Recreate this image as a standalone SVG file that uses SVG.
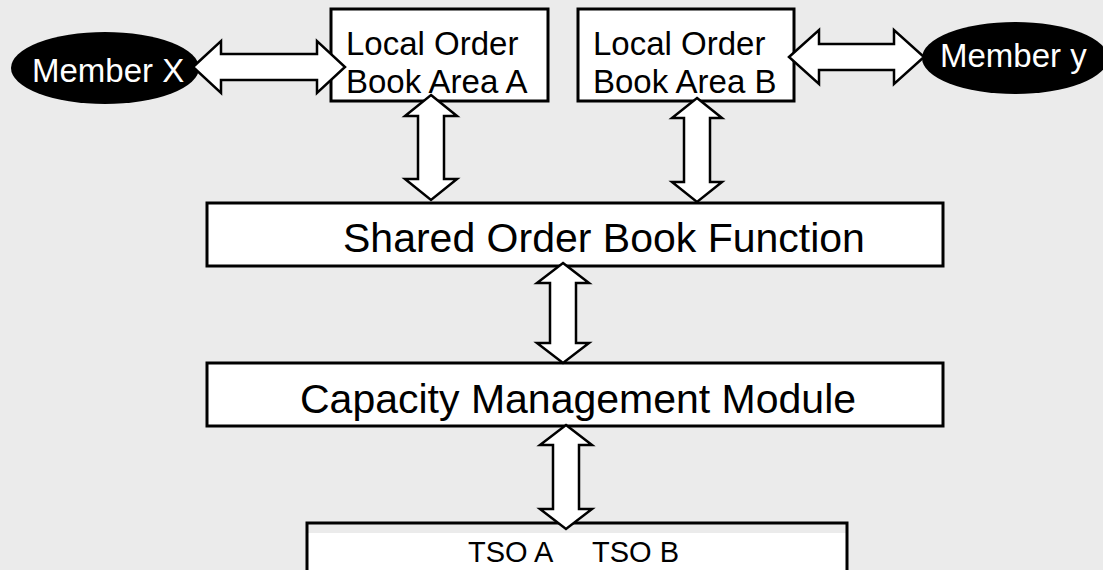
<svg xmlns="http://www.w3.org/2000/svg" width="1103" height="570" viewBox="0 0 1103 570">
  <style>
    .box { fill: #ffffff; stroke: #000000; stroke-width: 3; }
    .member { fill: #000000; }
    .arrow { fill: #ffffff; stroke: #000000; stroke-width: 2.5; stroke-linejoin: miter; }
    .lbl { font-family: "Liberation Sans", Arial, sans-serif; fill: #000000; }
    .small { font-size: 33px; }
    .big { font-size: 41px; }
    .white { fill: #ffffff; }
  </style>
  <rect x="0" y="0" width="1103" height="570" fill="#ebebeb"/>

  <g id="member-x">
    <ellipse class="member" cx="105" cy="68" rx="94" ry="36"/>
    <text class="lbl small white" x="32" y="82">Member X</text>
  </g>

  <g id="member-y">
    <ellipse class="member" cx="1015" cy="58" rx="93" ry="36"/>
    <text class="lbl small white" x="940" y="67">Member y</text>
  </g>

  <g id="local-book-a">
    <rect class="box" x="331" y="9" width="217" height="92"/>
    <text class="lbl small" x="346" y="55">Local Order</text>
    <text class="lbl small" x="346" y="93">Book Area A</text>
  </g>

  <g id="local-book-b">
    <rect class="box" x="578" y="9" width="216" height="92"/>
    <text class="lbl small" x="593" y="55">Local Order</text>
    <text class="lbl small" x="593" y="93">Book Area B</text>
  </g>

  <g id="shared-order-book">
    <rect class="box" x="207" y="203" width="736" height="63"/>
    <text class="lbl big" x="343" y="252">Shared Order Book Function</text>
  </g>

  <g id="capacity-management">
    <rect class="box" x="207" y="363" width="736" height="63"/>
    <text class="lbl big" x="300" y="413">Capacity Management Module</text>
  </g>

  <g id="tso">
    <rect x="307" y="533" width="540" height="40" fill="#ffffff"/>
    <path d="M307,572 V523 H847 V572" fill="none" stroke="#000000" stroke-width="3"/>
    <text class="lbl" font-size="29" y="562"><tspan x="468">TSO A</tspan><tspan x="592">TSO B</tspan></text>
  </g>

  <g id="connectors">
    <!-- Member X <-> Local Order Book Area A -->
    <polygon class="arrow" points="193,67 221,41 221,54 317,54 317,41 345,67 317,93 317,80 221,80 221,93"/>
    <!-- Local Order Book Area B <-> Member y -->
    <polygon class="arrow" points="789,57 819,30 819,44 894,44 894,30 924,57 894,84 894,70 819,70 819,84"/>
    <!-- Area A <-> Shared Order Book -->
    <polygon class="arrow" points="431,95 457,116 444,116 444,179 457,179 431,200 405,179 418,179 418,116 405,116"/>
    <!-- Area B <-> Shared Order Book -->
    <polygon class="arrow" points="697,98 722,118 710,118 710,182 722,182 697,202 672,182 684,182 684,118 672,118"/>
    <!-- Shared Order Book <-> Capacity Management -->
    <polygon class="arrow" points="563,263 589,283 576,283 576,343 589,343 563,363 537,343 550,343 550,283 537,283"/>
    <!-- Capacity Management <-> TSO -->
    <polygon class="arrow" points="566,425 592,445 579,445 579,509 592,509 566,529 540,509 553,509 553,445 540,445"/>
  </g>
</svg>
